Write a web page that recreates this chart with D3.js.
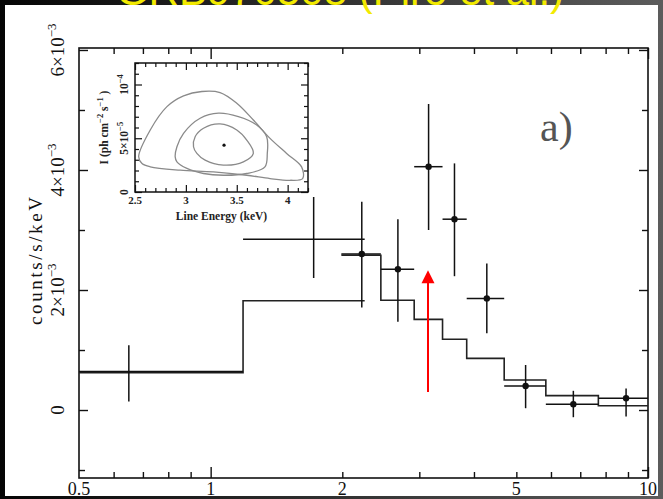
<!DOCTYPE html>
<html>
<head>
<meta charset="utf-8">
<script src="https://cdn.jsdelivr.net/npm/d3@7"></script>
<style>
  html, body { margin: 0; padding: 0; background: #000; }
  svg { display: block; }
</style>
</head>
<body>
<svg id="chart" width="663" height="499"></svg>
<script>
// ---- LECS (low-energy) spectrum: bins, rates, 1-sigma bounds, folded model ----
const lecsBinLo  = [0.5, 1.186];
const lecsBinHi  = [1.186, 2.25];
const lecsEnergy = [0.65, 1.72];
const lecsRate   = [0.64e-3, 2.845e-3];
const lecsErrLo  = [0.14e-3, 2.20e-3];
const lecsErrHi  = [1.08e-3, 3.55e-3];
const lecsModel  = [0.62e-3, 1.82e-3];

// ---- MECS (medium-energy) spectrum ----
const mecsEdges  = [1.99, 2.45, 2.92, 3.39, 3.85, 4.69, 5.84, 7.70, 10.0];
const mecsEnergy = [2.216, 2.68, 3.15, 3.61, 4.28, 5.25, 6.75, 8.91];
const mecsRate   = [2.60e-3, 2.345e-3, 4.055e-3, 3.18e-3, 1.86e-3, 0.40e-3, 0.095e-3, 0.195e-3];
const mecsErrLo  = [1.71e-3, 1.47e-3, 3.00e-3, 2.23e-3, 1.28e-3, 0.03e-3, -0.12e-3, -0.11e-3];
const mecsErrHi  = [3.47e-3, 3.18e-3, 5.10e-3, 4.11e-3, 2.44e-3, 0.75e-3, 0.32e-3, 0.36e-3];
const mecsModel  = [2.58e-3, 1.83e-3, 1.51e-3, 1.18e-3, 0.86e-3, 0.50e-3, 0.24e-3, 0.07e-3];

// ---- iron line position marker ----
const lineArrowEnergy = 3.14;
const lineArrowFrom   = 0.30e-3;
const lineArrowTo     = 2.33e-3;

// ---- axis ticks ----
const xTickLabels = [0.5, 1, 2, 5, 10];
const xMajorTicks = [1, 10];
const xMinorTicks = [0.6, 0.7, 0.8, 0.9, 2, 3, 4, 5, 6, 7, 8, 9];
const yMajorTicks = [0, 2e-3, 4e-3, 6e-3];
const yMinorTicks = [-1e-3, 1e-3, 3e-3, 5e-3];
const yTickMantissa = ["0", "2", "4", "6"];

// ---- inset: confidence contours in (line energy, intensity 1e-5 ph/cm2/s) ----
const contourOuter = [
  [2.536, 3.27], [2.650, 5.77], [2.814, 7.94], [2.977, 8.94], [3.157, 9.35],
  [3.336, 9.25], [3.500, 8.26], [3.663, 6.70], [3.827, 4.99], [3.990, 3.59],
  [4.137, 2.34], [4.147, 1.25], [4.022, 1.09], [3.827, 1.25], [3.598, 1.56],
  [3.271, 1.87], [2.944, 2.03], [2.650, 2.34], [2.569, 2.65]
];
const contourMiddle = [
  [2.895, 3.27], [2.912, 4.21], [2.977, 5.46], [3.140, 6.86], [3.320, 7.33],
  [3.516, 7.01], [3.696, 6.23], [3.794, 5.14], [3.800, 3.59], [3.777, 2.34],
  [3.598, 1.72], [3.369, 1.56], [3.173, 1.72], [3.010, 2.19], [2.912, 2.80]
];
const contourInner = [
  [3.075, 4.21], [3.091, 5.14], [3.173, 5.93], [3.336, 6.33], [3.500, 5.77],
  [3.598, 4.83], [3.663, 3.59], [3.565, 2.80], [3.369, 2.50], [3.189, 2.96],
  [3.108, 3.59]
];
const bestFit = [3.375, 4.36];
const insetXTickLabels = [2.5, 3, 3.5, 4];
const insetXMinor = d3.range(26, 43).map(d => d / 10);
const insetYMinor = d3.range(0, 13).map(d => d * 1e-5);
const insetYMajor = [0, 5e-5, 1e-4];

const svg = d3.select("#chart");
const W = 663, H = 499;

// dark presentation frame around the white figure
const defs = svg.append("defs");
const grad = defs.append("linearGradient").attr("id", "frameGrad")
  .attr("x1", "0%").attr("x2", "100%").attr("y1", "0%").attr("y2", "0%");
grad.append("stop").attr("offset", "0%").attr("stop-color", "#050505");
grad.append("stop").attr("offset", "100%").attr("stop-color", "#5c5c5c");
svg.append("rect").attr("width", W).attr("height", H).attr("fill", "url(#frameGrad)");
svg.append("rect").attr("x", 5).attr("y", 5).attr("width", 653).attr("height", 491).attr("fill", "#fff");

// slide title, running off the top edge
svg.append("text")
  .attr("x", 340).attr("y", 5)
  .attr("text-anchor", "middle")
  .attr("font-family", "Liberation Sans, Arial, sans-serif")
  .attr("font-size", 42)
  .attr("fill", "#f2ea00")
  .text("GRB970508 (Piro et al.)");

// ---- main panel scales ----
const plot = { left: 79, right: 648, top: 48, bottom: 478 };
const x = d3.scaleLog().domain([0.5, 10]).range([plot.left, plot.right]);
const y = d3.scaleLinear().domain([-1.133e-3, 6.033e-3]).range([plot.bottom, plot.top]);

const serif = "Liberation Serif, Times New Roman, serif";

// frame
svg.append("rect")
  .attr("x", plot.left).attr("y", plot.top)
  .attr("width", plot.right - plot.left).attr("height", plot.bottom - plot.top)
  .attr("fill", "none").attr("stroke", "#111").attr("stroke-width", 1.6);

// inward ticks on all four sides via d3 axes
function tickAxis(axisFn, scale, values, size, transform) {
  const g = svg.append("g").attr("transform", transform)
    .call(axisFn(scale).tickValues(values).tickSize(size).tickFormat(""));
  g.select(".domain").remove();
  g.selectAll("line").attr("stroke", "#111").attr("stroke-width", 1.4);
  return g;
}
tickAxis(d3.axisBottom, x, xMajorTicks, -11, `translate(0,${plot.bottom})`);
tickAxis(d3.axisBottom, x, xMinorTicks, -6, `translate(0,${plot.bottom})`);
tickAxis(d3.axisTop, x, xMajorTicks, -11, `translate(0,${plot.top})`);
tickAxis(d3.axisTop, x, xMinorTicks, -6, `translate(0,${plot.top})`);
tickAxis(d3.axisLeft, y, yMajorTicks, -9, `translate(${plot.left},0)`);
tickAxis(d3.axisLeft, y, yMinorTicks, -6, `translate(${plot.left},0)`);
tickAxis(d3.axisRight, y, yMajorTicks, -9, `translate(${plot.right},0)`);
tickAxis(d3.axisRight, y, yMinorTicks, -6, `translate(${plot.right},0)`);

// x tick labels
svg.append("g").selectAll("text").data(xTickLabels).join("text")
  .attr("x", d => x(d)).attr("y", 495)
  .attr("text-anchor", "middle")
  .attr("font-family", serif).attr("font-size", 18).attr("fill", "#111")
  .text(d => d);

// y tick labels (rotated, with powers of ten)
const yLab = svg.append("g").selectAll("text").data(yMajorTicks).join("text")
  .attr("transform", d => `translate(64,${y(d)}) rotate(-90)`)
  .attr("text-anchor", "middle")
  .attr("font-family", serif).attr("font-size", 19).attr("fill", "#111");
yLab.each(function (d, i) {
  const t = d3.select(this);
  t.append("tspan").text(yTickMantissa[i]);
  if (d !== 0) {
    t.append("tspan").text("×10");
    t.append("tspan").attr("dy", -8).attr("font-size", 13).text("−3");
  }
});

// y axis title
svg.append("text")
  .attr("transform", `translate(42,261) rotate(-90)`)
  .attr("text-anchor", "middle")
  .attr("font-family", serif).attr("font-size", 19).attr("fill", "#111")
  .attr("textLength", 128).attr("lengthAdjust", "spacing")
  .text("counts/s/keV");

// ---- folded models (step histograms) ----
const stepLine = d3.line().x(d => x(d[0])).y(d => y(d[1])).curve(d3.curveStepAfter);
const lecsSteps = lecsModel.map((m, i) => [lecsBinLo[i], m])
  .concat([[lecsBinHi[lecsBinHi.length - 1], lecsModel[lecsModel.length - 1]]]);
const mecsSteps = mecsModel.map((m, i) => [mecsEdges[i], m])
  .concat([[mecsEdges[mecsEdges.length - 1], mecsModel[mecsModel.length - 1]]]);
[lecsSteps, mecsSteps].forEach(s => {
  svg.append("path").attr("d", stepLine(s))
    .attr("fill", "none").attr("stroke", "#222").attr("stroke-width", 1.6);
});

// ---- data points with error bars ----
function drawData(energy, rate, lo, hi, binLo, binHi, withDots) {
  const g = svg.append("g").attr("stroke", "#111").attr("stroke-width", 1.5);
  energy.forEach((e, i) => {
    g.append("line").attr("x1", x(e)).attr("x2", x(e)).attr("y1", y(lo[i])).attr("y2", y(hi[i]));
    g.append("line").attr("x1", x(binLo[i])).attr("x2", x(binHi[i])).attr("y1", y(rate[i])).attr("y2", y(rate[i]));
    if (withDots) {
      g.append("circle").attr("cx", x(e)).attr("cy", y(rate[i])).attr("r", 3.2)
        .attr("fill", "#111").attr("stroke", "none");
    }
  });
}
drawData(lecsEnergy, lecsRate, lecsErrLo, lecsErrHi, lecsBinLo, lecsBinHi, false);
drawData(mecsEnergy, mecsRate, mecsErrLo, mecsErrHi, mecsEdges.slice(0, -1), mecsEdges.slice(1), true);

// ---- red arrow at the line energy ----
const ax = x(lineArrowEnergy);
svg.append("line")
  .attr("x1", ax).attr("x2", ax)
  .attr("y1", y(lineArrowFrom)).attr("y2", y(lineArrowTo) + 10)
  .attr("stroke", "#ff0000").attr("stroke-width", 2);
svg.append("path")
  .attr("d", `M${ax},${y(lineArrowTo)} L${ax - 6.5},${y(lineArrowTo) + 13} L${ax + 6.5},${y(lineArrowTo) + 13} Z`)
  .attr("fill", "#ff0000");

// panel tag
svg.append("text")
  .attr("x", 540).attr("y", 141)
  .attr("font-family", serif).attr("font-size", 42).attr("fill", "#555")
  .text("a)");

// ---- inset: line energy vs intensity confidence contours ----
const inset = { left: 135, right: 308, top: 63, bottom: 192 };
const ix = d3.scaleLinear().domain([2.5, 4.2]).range([inset.left, inset.right]);
const iy = d3.scaleLinear().domain([0, 1.2e-4]).range([inset.bottom, inset.top]);

svg.append("rect")
  .attr("x", inset.left).attr("y", inset.top)
  .attr("width", inset.right - inset.left).attr("height", inset.bottom - inset.top)
  .attr("fill", "#fff").attr("stroke", "#111").attr("stroke-width", 1.5);

function insetTicks(axisFn, scale, values, size, transform) {
  const g = svg.append("g").attr("transform", transform)
    .call(axisFn(scale).tickValues(values).tickSize(size).tickFormat(""));
  g.select(".domain").remove();
  g.selectAll("line").attr("stroke", "#111").attr("stroke-width", 1.2);
}
const insetXMajor = insetXTickLabels;
const insetXMinorOnly = insetXMinor.filter(v => !insetXMajor.some(m => Math.abs(m - v) < 1e-6));
const insetYMinorOnly = insetYMinor.filter(v => !insetYMajor.some(m => Math.abs(m - v) < 1e-9));
insetTicks(d3.axisBottom, ix, insetXMajor, -7, `translate(0,${inset.bottom})`);
insetTicks(d3.axisBottom, ix, insetXMinorOnly, -4, `translate(0,${inset.bottom})`);
insetTicks(d3.axisTop, ix, insetXMajor, -7, `translate(0,${inset.top})`);
insetTicks(d3.axisTop, ix, insetXMinorOnly, -4, `translate(0,${inset.top})`);
insetTicks(d3.axisLeft, iy, insetYMajor, -7, `translate(${inset.left},0)`);
insetTicks(d3.axisLeft, iy, insetYMinorOnly, -4, `translate(${inset.left},0)`);
insetTicks(d3.axisRight, iy, insetYMajor, -7, `translate(${inset.right},0)`);
insetTicks(d3.axisRight, iy, insetYMinorOnly, -4, `translate(${inset.right},0)`);

const contourLine = d3.line()
  .x(d => ix(d[0])).y(d => iy(d[1] * 1e-5))
  .curve(d3.curveCatmullRomClosed.alpha(0.5));
[contourOuter, contourMiddle, contourInner].forEach(c => {
  svg.append("path").attr("d", contourLine(c))
    .attr("fill", "none").attr("stroke", "#8a8a8a").attr("stroke-width", 1.3);
});
svg.append("circle")
  .attr("cx", ix(bestFit[0])).attr("cy", iy(bestFit[1] * 1e-5)).attr("r", 1.6).attr("fill", "#111");

// inset tick labels
svg.append("g").selectAll("text").data(insetXTickLabels).join("text")
  .attr("x", d => ix(d)).attr("y", 204)
  .attr("text-anchor", "middle")
  .attr("font-family", serif).attr("font-size", 11).attr("font-weight", "bold").attr("fill", "#222")
  .text(d => d);

const iyLab = svg.append("g").selectAll("text").data(insetYMajor).join("text")
  .attr("transform", d => `translate(128,${iy(d)}) rotate(-90)`)
  .attr("text-anchor", "middle")
  .attr("font-family", serif).attr("font-size", 11.5).attr("font-weight", "bold").attr("fill", "#222");
iyLab.each(function (d) {
  const t = d3.select(this);
  if (d === 0) { t.text("0"); return; }
  if (d === 5e-5) t.append("tspan").text("5×10");
  else t.append("tspan").text("10");
  t.append("tspan").attr("dy", -5).attr("font-size", 8.5).text(d === 5e-5 ? "−5" : "−4");
});

// inset axis titles
svg.append("text")
  .attr("x", (inset.left + inset.right) / 2).attr("y", 220)
  .attr("text-anchor", "middle")
  .attr("font-family", serif).attr("font-size", 11.5).attr("font-weight", "bold").attr("fill", "#222")
  .text("Line Energy (keV)");

const iTitle = svg.append("text")
  .attr("transform", `translate(108,${(inset.top + inset.bottom) / 2}) rotate(-90)`)
  .attr("text-anchor", "middle")
  .attr("font-family", serif).attr("font-size", 11.5).attr("font-weight", "bold").attr("fill", "#222");
iTitle.append("tspan").text("I (ph cm");
iTitle.append("tspan").attr("dy", -5).attr("font-size", 8.5).text("−2");
iTitle.append("tspan").attr("dy", 5).text(" s");
iTitle.append("tspan").attr("dy", -5).attr("font-size", 8.5).text("−1");
iTitle.append("tspan").attr("dy", 5).text(" )");
</script>
</body>
</html>
